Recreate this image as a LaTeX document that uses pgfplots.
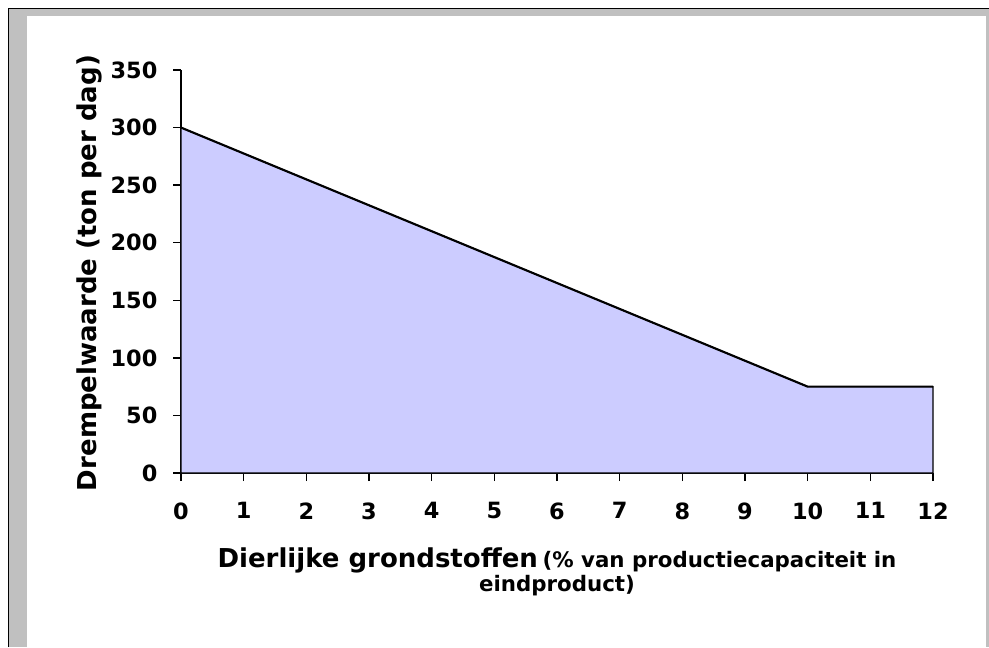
\documentclass[border=0pt]{standalone}
\usepackage{pgfplots}
\pgfplotsset{compat=1.18}
\usepackage{fontspec}
\setmainfont{DejaVu Sans}
\definecolor{areafill}{HTML}{CCCCFF}
\definecolor{frame}{HTML}{C0C0C0}
\begin{document}
\begin{tikzpicture}
\begin{scope}[x=0.75pt,y=0.75pt]
\useasboundingbox (0,0) rectangle (989,647);
\fill[white] (0,0) rectangle (989,647);
\fill[frame] (9,0) rectangle (989,638);
\fill[white] (27,0) rectangle (986,631);
\draw[black, line width=1.2pt] (8.5,0) -- (8.5,638.5) -- (989,638.5);
\end{scope}
\begin{axis}[
  at={(135.75pt,130.5pt)}, anchor=south west,
  scale only axis, width=564pt, height=302.25pt,
  xmin=0, xmax=12, ymin=0, ymax=350,
  xtick={0,1,...,12}, ytick={0,50,...,350},
  axis x line*=bottom, axis y line*=left,
  axis line style={-, black, line width=1.3pt},
  tick align=outside, major tick length=6pt,
  tick style={black, line width=1.1pt},
  /pgf/number format/assume math mode=true,
  ticklabel style={font=\fontsize{16.8}{19}\selectfont\bfseries},
  xticklabel style={anchor=north, inner sep=0pt, yshift=-16pt},
  yticklabel style={anchor=east, inner sep=0pt, xshift=-11.5pt},
  clip=false,
]
\addplot[fill=areafill, draw=black, line width=0.8pt] coordinates {(0,0) (0,300) (10,75) (12,75) (12,0)} -- cycle;
\addplot[black, line width=1.6pt] coordinates {(0,300) (10,75) (12,75)};
\end{axis}
\begin{scope}[x=0.75pt,y=0.75pt]
\node[anchor=base, inner sep=0pt, font=\bfseries] at (557,80) {{\fontsize{19.5}{22}\selectfont Dierlijke grondstoffen} {\fontsize{16}{18}\selectfont (\% van productiecapaciteit in}};
\node[anchor=base, inner sep=0pt, font=\bfseries\fontsize{16}{18}\selectfont] at (557,56) {eindproduct)};
\node[anchor=base, inner sep=0pt, rotate=90, font=\bfseries\fontsize{19.5}{22}\selectfont] at (96,374) {Drempelwaarde (ton per dag)};
\end{scope}
\end{tikzpicture}
\end{document}
